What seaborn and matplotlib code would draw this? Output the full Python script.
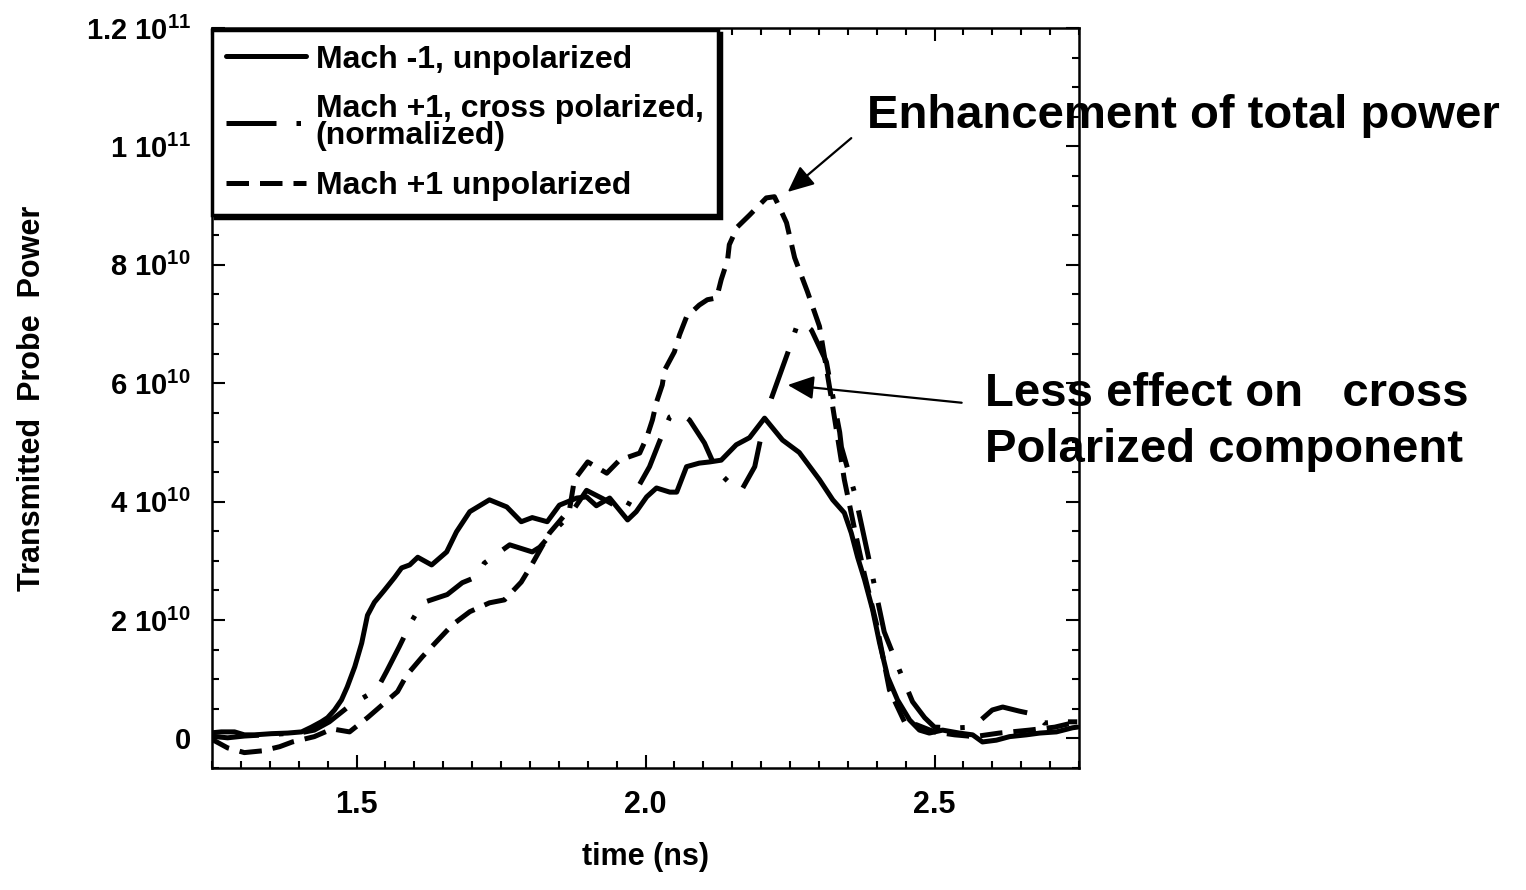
import numpy as np
import pandas as pd
import matplotlib
matplotlib.use("Agg")
import matplotlib.pyplot as plt
from matplotlib.lines import Line2D
from matplotlib.ticker import MultipleLocator, FixedLocator, FixedFormatter
import seaborn as sns

# ---------------- data (power in units of 1e10) ----------------
t_minus = [1.245, 1.266, 1.289, 1.306, 1.324, 1.353, 1.381, 1.405, 1.422, 1.439,
           1.450, 1.462, 1.474, 1.484, 1.497, 1.509, 1.519, 1.531, 1.548, 1.566,
           1.578, 1.592, 1.606, 1.630, 1.656, 1.673, 1.696, 1.730, 1.760, 1.785,
           1.804, 1.830, 1.851, 1.881, 1.898, 1.915, 1.938, 1.969, 1.984, 2.002,
           2.019, 2.042, 2.054, 2.071, 2.093, 2.111, 2.131, 2.157, 2.180, 2.206,
           2.237, 2.266, 2.301, 2.324, 2.344, 2.356, 2.367, 2.379, 2.393, 2.405,
           2.419, 2.436, 2.457, 2.474, 2.491, 2.514, 2.543, 2.566, 2.583, 2.607,
           2.630, 2.659, 2.682, 2.711, 2.739, 2.747]
p_minus = [0.09, 0.11, 0.11, 0.06, 0.06, 0.08, 0.09, 0.11, 0.19, 0.28,
           0.35, 0.48, 0.65, 0.87, 1.21, 1.61, 2.08, 2.30, 2.50, 2.72,
           2.88, 2.93, 3.06, 2.93, 3.15, 3.49, 3.83, 4.03, 3.91, 3.66,
           3.73, 3.66, 3.94, 4.06, 4.08, 3.93, 4.06, 3.69, 3.83, 4.08,
           4.23, 4.16, 4.16, 4.59, 4.65, 4.67, 4.70, 4.96, 5.08, 5.41,
           5.04, 4.83, 4.37, 4.03, 3.81, 3.47, 3.06, 2.68, 2.17, 1.61,
           1.04, 0.65, 0.31, 0.14, 0.09, 0.14, 0.09, 0.06, -0.06, -0.03,
           0.03, 0.06, 0.09, 0.11, 0.18, 0.19]

t_cross = [1.245, 1.277, 1.306, 1.341, 1.375, 1.401, 1.427, 1.453, 1.484, 1.505,
           1.535, 1.552, 1.574, 1.595, 1.614, 1.657, 1.683, 1.708, 1.721, 1.765,
           1.804, 1.817, 1.843, 1.869, 1.898, 1.926, 1.964, 1.984, 2.007, 2.024,
           2.042, 2.059, 2.076, 2.102, 2.123, 2.149, 2.166, 2.189, 2.206, 2.218,
           2.246, 2.261, 2.270, 2.287, 2.313, 2.318, 2.336, 2.339, 2.362, 2.388,
           2.413, 2.439, 2.462, 2.483, 2.500, 2.543, 2.566, 2.600, 2.618, 2.647,
           2.676, 2.690, 2.716, 2.747]
p_cross = [0.04, 0.01, 0.04, 0.06, 0.08, 0.09, 0.14, 0.28, 0.52, 0.65,
           0.82, 1.13, 1.55, 1.97, 2.29, 2.43, 2.63, 2.73, 2.96, 3.27,
           3.15, 3.23, 3.52, 3.77, 4.19, 4.05, 3.84, 4.19, 4.59, 5.01,
           5.43, 5.50, 5.38, 4.99, 4.53, 4.28, 4.19, 4.59, 5.38, 5.75,
           6.51, 6.94, 7.04, 6.90, 6.36, 6.09, 5.17, 4.92, 4.14, 2.96,
           1.80, 1.16, 0.62, 0.35, 0.19, 0.18, 0.19, 0.48, 0.53, 0.46,
           0.40, 0.26, 0.28, 0.28]

t_plus = [1.245, 1.277, 1.306, 1.337, 1.367, 1.389, 1.427, 1.458, 1.488, 1.519,
          1.545, 1.571, 1.587, 1.614, 1.638, 1.666, 1.696, 1.730, 1.756, 1.785,
          1.803, 1.834, 1.860, 1.869, 1.877, 1.900, 1.933, 1.955, 1.990, 2.002,
          2.012, 2.019, 2.029, 2.033, 2.050, 2.059, 2.071, 2.093, 2.107, 2.123,
          2.131, 2.142, 2.145, 2.159, 2.180, 2.209, 2.223, 2.228, 2.244, 2.258,
          2.280, 2.301, 2.322, 2.344, 2.362, 2.379, 2.400, 2.422, 2.448, 2.469,
          2.500, 2.535, 2.569, 2.612, 2.664, 2.708, 2.747]
p_plus = [0.01, -0.16, -0.24, -0.21, -0.14, -0.06, 0.03, 0.16, 0.11, 0.35,
          0.57, 0.79, 1.07, 1.38, 1.63, 1.92, 2.14, 2.29, 2.34, 2.64,
          2.93, 3.47, 3.77, 3.89, 4.37, 4.67, 4.48, 4.70, 4.82, 5.08,
          5.38, 5.68, 5.97, 6.22, 6.53, 6.82, 7.12, 7.32, 7.41, 7.44,
          7.75, 8.08, 8.34, 8.64, 8.84, 9.13, 9.15, 9.05, 8.71, 8.12,
          7.55, 6.96, 5.72, 4.37, 3.52, 2.76, 1.92, 0.82, 0.28, 0.23,
          0.11, 0.06, 0.03, 0.09, 0.14, 0.19, 0.28]

series_labels = ["Mach -1, unpolarized",
                 "Mach +1, cross polarized,\n(normalized)",
                 "Mach +1 unpolarized"]

xtick_vals = [1.5, 2.0, 2.5]
xtick_labels = ["1.5", "2.0", "2.5"]
ytick_vals = [0, 2, 4, 6, 8, 10, 12]
ytick_labels = ["0", r"2 10$^{10}$", r"4 10$^{10}$", r"6 10$^{10}$",
                r"8 10$^{10}$", r"1 10$^{11}$", r"1.2 10$^{11}$"]

x_label = "time (ns)"
y_label = "Transmitted  Probe  Power"
annot1 = "Enhancement of total power"
annot2_l1 = "Less effect on   cross"
annot2_l2 = "Polarized component"

# ---------------- style ----------------
sns.set_style("ticks")
plt.rcParams['font.family'] = ['Liberation Sans', 'DejaVu Sans']
plt.rcParams['font.weight'] = 'bold'
plt.rcParams['axes.labelweight'] = 'bold'
plt.rcParams['mathtext.fontset'] = 'custom'
plt.rcParams['mathtext.rm'] = 'Liberation Sans:bold'
plt.rcParams['mathtext.bf'] = 'Liberation Sans:bold'
plt.rcParams['mathtext.it'] = 'Liberation Sans:bold'
plt.rcParams['mathtext.default'] = 'rm'
plt.rcParams['text.color'] = 'black'
plt.rcParams['axes.labelcolor'] = 'black'
plt.rcParams['xtick.color'] = 'black'
plt.rcParams['ytick.color'] = 'black'

fig = plt.figure(figsize=(15.26, 8.9), dpi=100)
ax = fig.add_axes([212 / 1526, 1 - 768 / 890, (1079 - 212) / 1526, (768 - 28) / 890])

df = pd.concat([
    pd.DataFrame({"time": t_minus, "power": p_minus, "series": series_labels[0]}),
    pd.DataFrame({"time": t_cross, "power": p_cross, "series": series_labels[1]}),
    pd.DataFrame({"time": t_plus, "power": p_plus, "series": series_labels[2]}),
], ignore_index=True)

dash_map = {series_labels[0]: "",
            series_labels[1]: (10, 4, 0.9, 4),
            series_labels[2]: (4.5, 2.2)}
LW = 3.6
sns.lineplot(data=df, x="time", y="power", hue="series", style="series",
             hue_order=series_labels, style_order=series_labels,
             palette={s: "black" for s in series_labels}, dashes=dash_map,
             linewidth=LW, estimator=None, sort=False, legend=False, ax=ax)
for ln in ax.lines:
    ln.set_solid_joinstyle('round')
    ln.set_dash_joinstyle('round')

ax.set_xlim(1.25, 2.75)
ax.set_ylim(-0.5, 12)
ax.xaxis.set_major_locator(FixedLocator(xtick_vals))
ax.xaxis.set_major_formatter(FixedFormatter(xtick_labels))
ax.xaxis.set_minor_locator(MultipleLocator(0.05))
ax.yaxis.set_major_locator(FixedLocator(ytick_vals))
ax.yaxis.set_major_formatter(FixedFormatter(ytick_labels))
ax.yaxis.set_minor_locator(MultipleLocator(0.5))
ax.tick_params(which='both', direction='in', top=True, right=True, width=1.5, colors='black')
ax.tick_params(which='major', length=9.5)
ax.tick_params(which='minor', length=5)
ax.tick_params(axis='y', which='major', pad=15, labelsize=21)
ax.tick_params(axis='x', which='major', pad=16, labelsize=22)
for s in ax.spines.values():
    s.set_linewidth(1.8)
    s.set_color('black')

ax.set_xlabel(x_label, fontsize=22, fontweight='bold')
ax.xaxis.set_label_coords(0.5, -0.1)
ax.set_ylabel(y_label, fontsize=22, fontweight='bold')
ax.yaxis.set_label_coords(-0.19, 0.5)

# legend
handles = [Line2D([], [], color='black', lw=LW, linestyle='-'),
           Line2D([], [], color='black', lw=LW, dashes=dash_map[series_labels[1]]),
           Line2D([], [], color='black', lw=LW, dashes=dash_map[series_labels[2]])]
leg = ax.legend(handles, series_labels, loc='upper left', bbox_to_anchor=(0.0, 0.997),
                borderaxespad=0.0, prop={'size': 23, 'weight': 'bold'},
                handlelength=2.5, handletextpad=0.3, labelspacing=0.62, borderpad=0.45,
                frameon=True, fancybox=False, edgecolor='black', framealpha=1,
                shadow={'color': 'black', 'alpha': 1})
leg.get_frame().set_linewidth(2.5)
leg.get_texts()[1].set_linespacing(0.85)

# annotations
arrow_kw = dict(arrowstyle='-|>,head_length=0.4,head_width=0.18', lw=1.6, color='black',
                shrinkA=0, shrinkB=0, mutation_scale=40)
ax.annotate('', xy=(2.246, 9.23), xytext=(2.356, 10.14), arrowprops=arrow_kw,
            annotation_clip=False)
ax.annotate('', xy=(2.246, 5.97), xytext=(2.547, 5.67), arrowprops=arrow_kw,
            annotation_clip=False)
ax.text(2.384, 10.31, annot1, fontsize=34, fontweight='bold', ha='left', va='baseline',
        clip_on=False)
ax.text(2.587, 5.62, annot2_l1, fontsize=34, fontweight='bold', ha='left', va='baseline',
        clip_on=False)
ax.text(2.587, 4.67, annot2_l2, fontsize=34, fontweight='bold', ha='left', va='baseline',
        clip_on=False)

fig.savefig("out.png", dpi=100)
